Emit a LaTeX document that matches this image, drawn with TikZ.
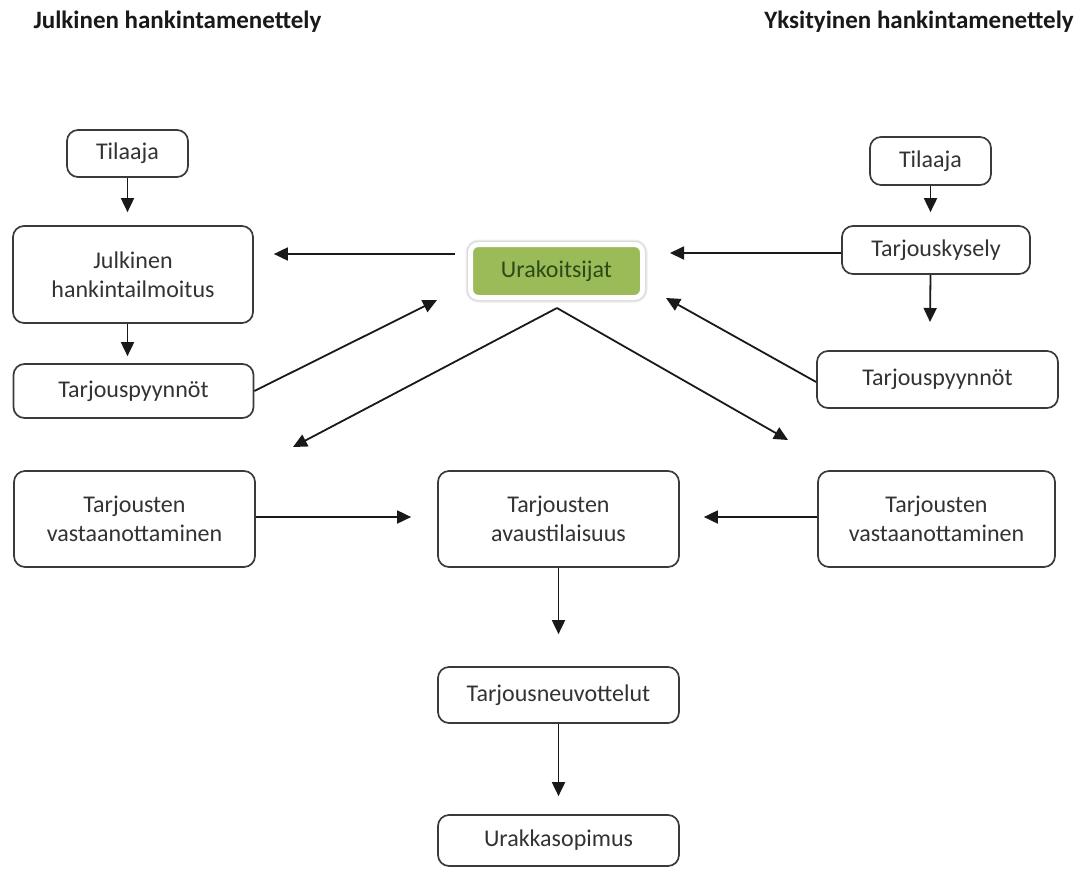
\documentclass[tikz,border=0pt]{standalone}
\usepackage{fontspec}
\setmainfont{Carlito}
\usetikzlibrary{arrows.meta}
\definecolor{boxline}{HTML}{3A3A3A}
\definecolor{boxtext}{HTML}{333333}
\definecolor{urakgreen}{HTML}{9BBB59}
\definecolor{uraktext}{HTML}{2B4A17}
\begin{document}
\begin{tikzpicture}[x=1pt,y=-1pt,
  box/.style={draw=boxline, line width=1.7pt, rounded corners=11pt, fill=white,
    align=center, inner sep=0pt, text=boxtext, font=\fontsize{24}{29}\selectfont},
  arr/.style={-{Triangle[length=14pt,width=13pt]}, line width=1.8pt, black!90},
  hdr/.style={font=\bfseries\fontsize{25}{28}\selectfont, inner sep=0pt, text=black!90},
  urak/.style={fill=urakgreen, draw=white, line width=5pt, rounded corners=8pt,
    inner sep=0pt, text=uraktext, font=\fontsize{24}{29}\selectfont,
    preaction={draw=black!7, line width=10pt},
    preaction={draw=black!14, line width=7.5pt}}]
\useasboundingbox (0,0) rectangle (1087,868);

% headers
\node[hdr] (h1) at (177.5,22) {Julkinen hankintamenettely};
\node[hdr] (h2) at (919,22) {Yksityinen hankintamenettely};

% left column
\node[box, minimum width=121pt, minimum height=47pt] (tl) at (127.5,153.5) {Tilaaja};
\node[box, minimum width=240pt, minimum height=97pt] (jh) at (133,274.5) {Julkinen\\hankintailmoitus};
\node[box, minimum width=240pt, minimum height=54pt] (tpl) at (133.5,391) {Tarjouspyynnöt};
\node[box, minimum width=241pt, minimum height=96pt] (tvl) at (134.5,519) {Tarjousten\\vastaanottaminen};

% centre
\node[urak, minimum width=172pt, minimum height=53pt] (ur) at (556.5,271) {Urakoitsijat};
\node[box, minimum width=241pt, minimum height=96pt] (ta) at (558.5,519) {Tarjousten\\avaustilaisuus};
\node[box, minimum width=241pt, minimum height=56pt] (tn) at (558.5,695) {Tarjousneuvottelut};
\node[box, minimum width=241pt, minimum height=51pt] (us) at (558.5,840.5) {Urakkasopimus};

% right column
\node[box, minimum width=121pt, minimum height=48pt] (tr) at (930.5,161) {Tilaaja};
\node[box, minimum width=188pt, minimum height=48pt] (tk) at (936,250) {Tarjouskysely};
\node[box, minimum width=241pt, minimum height=57pt] (tpr) at (937.5,379.5) {Tarjouspyynnöt};
\node[box, minimum width=237pt, minimum height=96pt] (tvr) at (936.5,519) {Tarjousten\\vastaanottaminen};

% free ends
\coordinate (apex) at (557,308);
\coordinate (dl) at (293,447);
\coordinate (dr) at (788,440);
\coordinate (tkend) at (930,322);
\coordinate (urL) at (437,300);
\coordinate (urR) at (666,298);

% arrows left
\draw[arr] (tl.south) -- ([yshift=13pt]tl.south |- jh.north);
\draw[arr] (jh.south -| tl.south) -- ([yshift=7pt]tl.south |- tpl.north);
\draw[arr] ([xshift=-13pt]ur.west |- 0,254) -- ([xshift=20pt]jh.east |- 0,254);
\draw[arr] (tpl.east) -- (urL);
\draw[arr] (apex) -- (dl);
\draw[arr] (apex) -- (dr);

% arrows right
\draw[arr] (tr.south) -- ([yshift=13pt]tr.south |- tk.north);
\draw[arr] (tk.west |- 0,253) -- ([xshift=25pt]ur.east |- 0,253);
\draw[arr] (tk.south -| tr.south) -- (tkend);
\draw[arr] ([yshift=-2.5pt]tpr.west) -- (urR);

% lower arrows
\draw[arr] (tvl.east |- 0,517) -- ([xshift=-26pt]ta.west |- 0,517);
\draw[arr] (tvr.west |- 0,517) -- ([xshift=24pt]ta.east |- 0,517);
\draw[arr] (ta.south) -- ([yshift=32pt]ta.south |- tn.north);
\draw[arr] (tn.south) -- ([yshift=18pt]tn.south |- us.north);
\end{tikzpicture}
\end{document}
